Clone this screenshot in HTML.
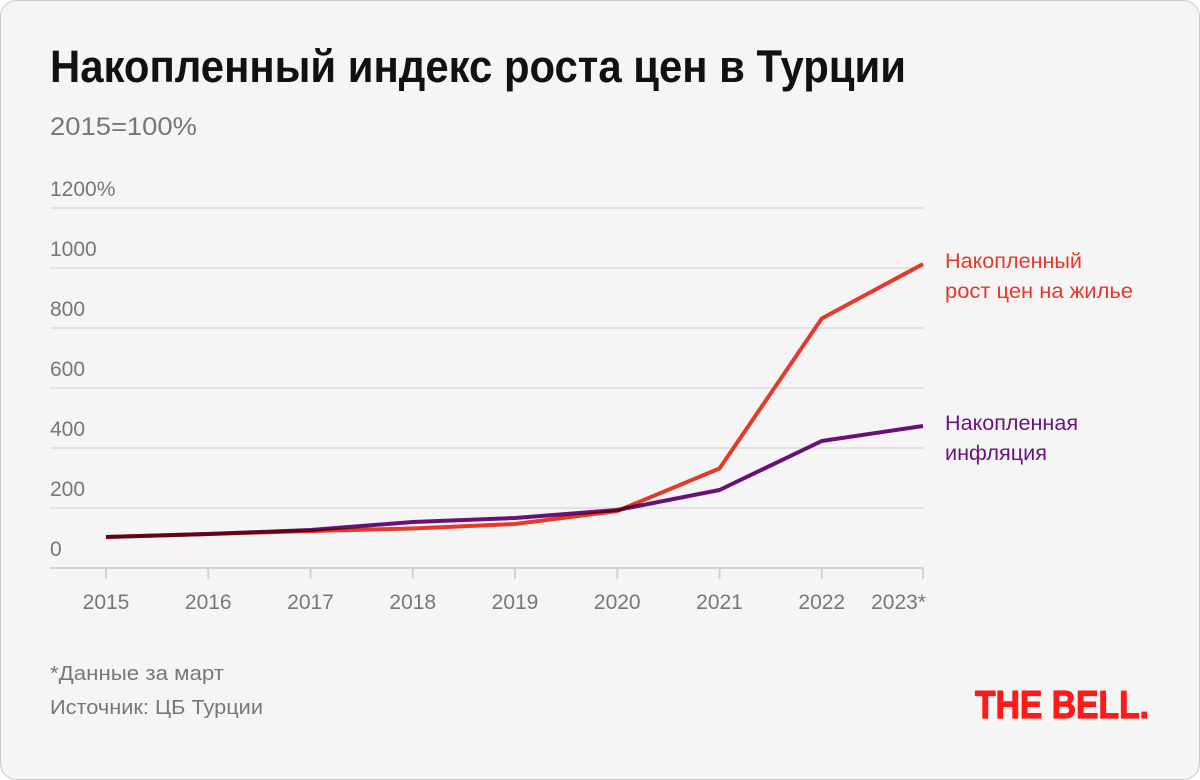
<!DOCTYPE html>
<html>
<head>
<meta charset="utf-8">
<style>
  html,body{margin:0;padding:0;background:#ffffff;}
  svg{display:block;}
  text{font-family:"Liberation Sans","Noto Sans CJK SC",sans-serif;}
</style>
</head>
<body>
<svg width="1200" height="780" viewBox="0 0 1200 780" xmlns="http://www.w3.org/2000/svg">
  <rect x="0.5" y="0.5" width="1199" height="779" rx="16" ry="16" fill="#f5f5f5" stroke="#c9c9c9" stroke-width="1"/>

  <!-- Title -->
  <text x="50" y="82" font-size="45" font-weight="bold" fill="#111111" textLength="856" lengthAdjust="spacingAndGlyphs">Накопленный индекс роста цен в Турции</text>
  <text x="50" y="135" font-size="25" fill="#777777" textLength="147" lengthAdjust="spacingAndGlyphs">2015=100%</text>

  <!-- Gridlines -->
  <g stroke="#e2e2e2" stroke-width="2">
    <line x1="50" y1="208" x2="924" y2="208"/>
    <line x1="50" y1="268" x2="924" y2="268"/>
    <line x1="50" y1="328" x2="924" y2="328"/>
    <line x1="50" y1="388" x2="924" y2="388"/>
    <line x1="50" y1="448" x2="924" y2="448"/>
    <line x1="50" y1="508" x2="924" y2="508"/>
  </g>
  <!-- Axis -->
  <g stroke="#d3d3d3" stroke-width="2">
    <line x1="50" y1="568" x2="924" y2="568"/>
    <line x1="106" y1="568" x2="106" y2="579"/>
    <line x1="208.25" y1="568" x2="208.25" y2="579"/>
    <line x1="310.5" y1="568" x2="310.5" y2="579"/>
    <line x1="412.75" y1="568" x2="412.75" y2="579"/>
    <line x1="515" y1="568" x2="515" y2="579"/>
    <line x1="617.25" y1="568" x2="617.25" y2="579"/>
    <line x1="719.5" y1="568" x2="719.5" y2="579"/>
    <line x1="821.75" y1="568" x2="821.75" y2="579"/>
    <line x1="923" y1="568" x2="923" y2="579"/>
  </g>

  <!-- Y labels -->
  <g font-size="21" fill="#777777">
    <text x="50" y="196">1200%</text>
    <text x="50" y="256">1000</text>
    <text x="50" y="316">800</text>
    <text x="50" y="376">600</text>
    <text x="50" y="436">400</text>
    <text x="50" y="496">200</text>
    <text x="50" y="556">0</text>
  </g>

  <!-- X labels -->
  <g font-size="21" fill="#777777" text-anchor="middle">
    <text x="106" y="609">2015</text>
    <text x="208.25" y="609">2016</text>
    <text x="310.5" y="609">2017</text>
    <text x="412.75" y="609">2018</text>
    <text x="515" y="609">2019</text>
    <text x="617.25" y="609">2020</text>
    <text x="719.5" y="609">2021</text>
    <text x="821.75" y="609">2022</text>
    <text x="926" y="609" text-anchor="end">2023*</text>
  </g>

  <!-- Series -->
  <polyline fill="none" stroke="#e5392b" stroke-width="4" stroke-linejoin="round" stroke-linecap="butt"
    points="106,537 208.25,534 310.5,531 412.75,528.5 515,524 617.25,511 719.5,468.5 821.75,318.5 923,264"/>
  <polyline fill="none" stroke="#6c127e" stroke-width="4" stroke-linejoin="round" stroke-linecap="butt" style="mix-blend-mode:multiply"
    points="106,537 208.25,534 310.5,530 412.75,522 515,518 617.25,510 719.5,490 821.75,441 923,426"/>

  <!-- Annotations -->
  <g font-size="21">
    <text x="945" y="268" fill="#e5392b" textLength="137" lengthAdjust="spacingAndGlyphs">Накопленный</text>
    <text x="945" y="298" fill="#e5392b" textLength="188" lengthAdjust="spacingAndGlyphs">рост цен на жилье</text>
    <text x="945" y="430" fill="#6c127e" textLength="133" lengthAdjust="spacingAndGlyphs">Накопленная</text>
    <text x="945" y="460" fill="#6c127e" textLength="102" lengthAdjust="spacingAndGlyphs">инфляция</text>
  </g>

  <!-- Footer -->
  <text x="50" y="680" font-size="20" fill="#777777" textLength="174" lengthAdjust="spacingAndGlyphs">*Данные за март</text>
  <text x="50" y="714" font-size="20" fill="#777777" textLength="213" lengthAdjust="spacingAndGlyphs">Источник: ЦБ Турции</text>

  <!-- Logo -->
  <text x="975" y="718" font-family="'Liberation Sans Narrow','Liberation Sans',sans-serif" font-size="39" font-weight="bold" fill="#ff1a1a" stroke="#ff1a1a" stroke-width="1.2" textLength="174" lengthAdjust="spacingAndGlyphs">THE BELL.</text>
</svg>
</body>
</html>
